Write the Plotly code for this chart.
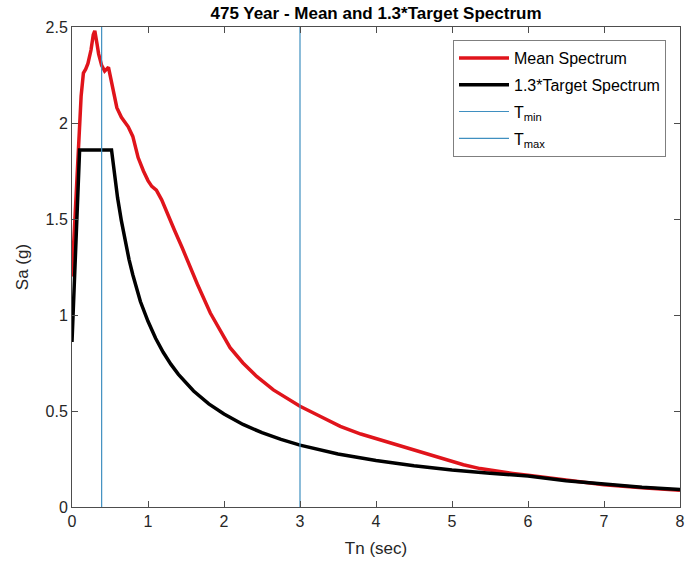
import plotly.graph_objects as go

# Mean response spectrum of the selected ground motions
mean_T = [0.0, 0.04, 0.08, 0.12, 0.15, 0.18, 0.21, 0.25, 0.28, 0.30, 0.33, 0.35,
          0.39, 0.43, 0.48, 0.52, 0.59, 0.65, 0.74, 0.80, 0.87, 0.94, 1.00,
          1.05, 1.11, 1.18, 1.25, 1.35, 1.45, 1.55, 1.65, 1.82, 2.0, 2.08,
          2.25, 2.43, 2.65, 2.85, 3.0, 3.25, 3.53, 3.8, 4.05, 4.3, 4.49,
          4.7, 4.93, 5.15, 5.37, 5.6, 5.8, 6.0, 6.25, 6.5, 7.0, 7.5, 8.0]
mean_Sa = [1.20, 1.52, 1.84, 2.14, 2.26, 2.28, 2.31, 2.38, 2.46, 2.48, 2.41, 2.36,
           2.30, 2.27, 2.29, 2.22, 2.08, 2.03, 1.98, 1.93, 1.82, 1.75, 1.70,
           1.67, 1.65, 1.60, 1.53, 1.44, 1.35, 1.25, 1.16, 1.01, 0.88, 0.83,
           0.75, 0.68, 0.61, 0.56, 0.525, 0.475, 0.42, 0.38, 0.35, 0.32, 0.30,
           0.275, 0.245, 0.22, 0.20, 0.185, 0.175, 0.165, 0.152, 0.138, 0.116, 0.100, 0.087]

# 1.3 x design target spectrum
target_T = [0.0, 0.1, 0.52, 0.56, 0.6, 0.65, 0.7, 0.75, 0.8, 0.9, 1.0, 1.1, 1.2,
            1.3, 1.4, 1.5, 1.6, 1.8, 2.0, 2.25, 2.5, 2.75, 3.0, 3.5, 4.0,
            4.5, 5.0, 5.5, 6.0, 6.5, 7.0, 7.5, 8.0]
target_Sa = [0.86, 1.86, 1.86, 1.73, 1.61, 1.49, 1.38, 1.29, 1.21, 1.07, 0.967, 0.879, 0.806,
             0.744, 0.691, 0.645, 0.604, 0.537, 0.484, 0.430, 0.387, 0.352, 0.322, 0.276, 0.242,
             0.215, 0.193, 0.176, 0.161, 0.137, 0.118, 0.103, 0.091]

# Period range bounds used for scaling
t_min = 0.39
t_max = 3.0
sa_range = [0, 2.5]

x_ticks = [0, 1, 2, 3, 4, 5, 6, 7, 8]
y_ticks = [0, 0.5, 1, 1.5, 2, 2.5]
y_tick_text = ["0", "0.5", "1", "1.5", "2", "2.5"]

font_family = "Liberation Sans, Arial, sans-serif"
axis_grey = "#4d4d4d"
bound_color = "#3f8fc0"

fig = go.Figure()

fig.add_trace(go.Scatter(
    x=mean_T, y=mean_Sa, mode="lines", name="Mean Spectrum",
    line=dict(color="#e0141b", width=3.5), legendgroup="a",
))
fig.add_trace(go.Scatter(
    x=target_T, y=target_Sa, mode="lines", name="1.3*Target Spectrum",
    line=dict(color="#000000", width=3.5), legendgroup="b",
))
fig.add_trace(go.Scatter(
    x=[t_min, t_min], y=sa_range, mode="lines", name="T<sub>min</sub>",
    line=dict(color=bound_color, width=1.2), legendgroup="c",
))
fig.add_trace(go.Scatter(
    x=[t_max, t_max], y=sa_range, mode="lines", name="T<sub>max</sub>",
    line=dict(color=bound_color, width=1.2), legendgroup="d",
))

fig.update_layout(
    width=688, height=572,
    margin=dict(l=72, r=8, t=27, b=65),
    paper_bgcolor="white",
    plot_bgcolor="white",
    font=dict(family=font_family, size=15, color="#262626"),
    title=dict(
        text="<b>475 Year - Mean and 1.3*Target Spectrum</b>",
        x=(72 + 680) / 2 / 688, xanchor="center",
        y=1 - 13 / 572, yanchor="middle",
        font=dict(size=17, color="#000000"),
    ),
    showlegend=True,
    legend=dict(
        x=1 - 14 / 608, xanchor="right",
        y=1 - 13 / 480, yanchor="top",
        bordercolor="#7f7f7f", borderwidth=1,
        bgcolor="white",
        font=dict(size=16, color="#000000"),
        itemwidth=50,
        tracegroupgap=3,
    ),
)

fig.update_xaxes(
    range=[0, 8], tickvals=x_ticks,
    ticks="inside", ticklen=6, tickcolor=axis_grey,
    showline=True, linecolor=axis_grey, linewidth=1, mirror="ticks",
    showgrid=False, zeroline=False, automargin=False,
    tickfont=dict(size=16, color="#262626"),
    title=dict(text="Tn (sec)", font=dict(size=17, color="#262626"), standoff=12),
)
fig.update_yaxes(
    range=sa_range, tickvals=y_ticks, ticktext=y_tick_text,
    ticks="inside", ticklen=6, tickcolor=axis_grey,
    showline=True, linecolor=axis_grey, linewidth=1, mirror="ticks",
    showgrid=False, zeroline=False, automargin=False,
    tickfont=dict(size=16, color="#262626"),
    title=dict(text="Sa (g)", font=dict(size=17, color="#262626"), standoff=12),
)

fig.write_html("out.html")
